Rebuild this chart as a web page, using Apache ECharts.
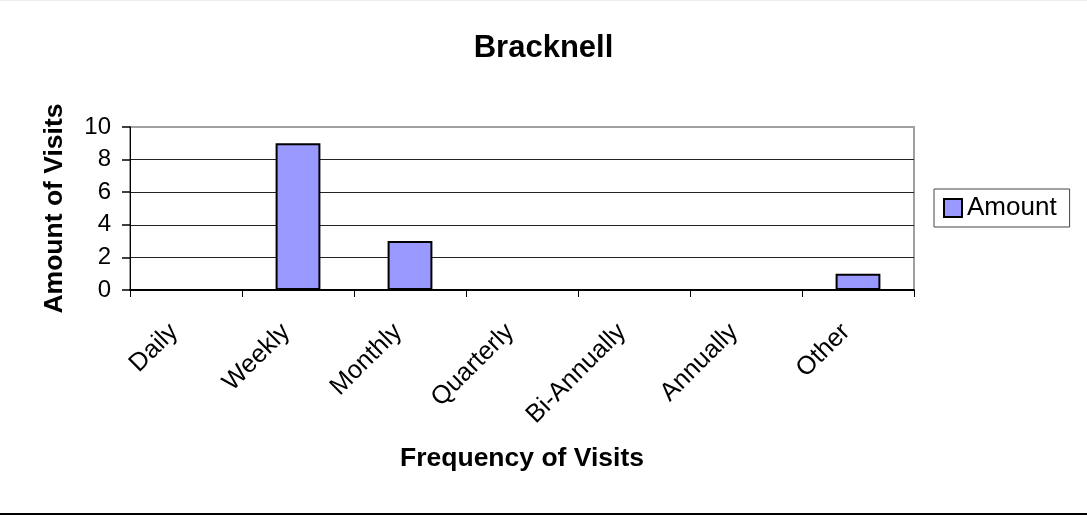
<!DOCTYPE html>
<html>
<head>
<meta charset="utf-8">
<title>Bracknell</title>
<script src="https://cdn.jsdelivr.net/npm/echarts@6/dist/echarts.min.js"></script>
<style>
  html, body { margin: 0; padding: 0; background: #fff; }
  .frame { position: relative; width: 1087px; height: 515px; overflow: hidden; }
  #chartBox { position: absolute; left: 0; top: 0; width: 1087px; height: 515px; }
  .topLine { position: absolute; left: 0; top: 0; width: 100%; height: 1px; background: #ececec; }
  .bottomLine { position: absolute; left: 0; top: 513px; width: 100%; height: 2px; background: #000; }
</style>
</head>
<body>
<div class="frame">
  <div id="chartBox"></div>
  <div class="topLine"></div>
  <div class="bottomLine"></div>
</div>
<script>
  // data
  const categories = ['Daily', 'Weekly', 'Monthly', 'Quarterly', 'Bi-Annually', 'Annually', 'Other']
  const amount = [0, 9, 3, 0, 0, 0, 1]
  const yTicks = [0, 2, 4, 6, 8, 10]

  const fontName = '"Liberation Sans", Arial, Helvetica, sans-serif'

  const makeChart = () => {
    var chartDom = echarts.init(document.getElementById('chartBox'))
    let option = {
      animation: false,
      title: {
        text: 'Bracknell',
        left: 'center',
        top: 28,
        textStyle: { fontFamily: fontName, fontSize: 31, fontWeight: 'bold', color: '#000' }
      },
      legend: {
        data: ['Amount'],
        orient: 'vertical',
        left: 934,
        top: 189,
        padding: [6, 13, 6, 9],
        borderColor: '#444',
        borderWidth: 1,
        itemWidth: 18,
        itemHeight: 18,
        icon: 'rect',
        textStyle: { fontFamily: fontName, fontSize: 26, color: '#000' }
      },
      grid: {
        left: 130,
        right: 173,
        top: 127,
        bottom: 225,
        show: true,
        borderColor: '#a0a0a0',
        borderWidth: 2
      },
      xAxis: {
        type: 'category',
        data: categories,
        name: 'Frequency of Visits',
        nameLocation: 'middle',
        nameGap: 155,
        nameTextStyle: { fontFamily: fontName, fontSize: 26.5, fontWeight: 'bold', color: '#000' },
        axisLine: { show: true, lineStyle: { color: '#000', width: 2 } },
        axisTick: { show: true, inside: false, alignWithLabel: false, interval: 0, length: 7, lineStyle: { color: '#000', width: 1 } },
        axisLabel: {
          rotate: 45,
          interval: 0,
          margin: 26,
          padding: [0, 17, 0, 0],
          fontFamily: fontName,
          fontSize: 25.5,
          color: '#000'
        }
      },
      yAxis: {
        type: 'value',
        min: yTicks[0],
        max: yTicks[yTicks.length - 1],
        interval: yTicks[1] - yTicks[0],
        name: 'Amount of Visits',
        nameLocation: 'middle',
        nameGap: 62,
        nameTextStyle: { fontFamily: fontName, fontSize: 26.5, fontWeight: 'bold', color: '#000' },
        axisLine: { show: true, lineStyle: { color: '#000', width: 1 } },
        axisTick: { show: true, inside: false, length: 8, lineStyle: { color: '#000', width: 1.5 } },
        axisLabel: { margin: 19, fontFamily: fontName, fontSize: 24, color: '#000' },
        splitLine: { show: true, showMaxLine: false, lineStyle: { color: '#222', width: 1 } }
      },
      series: [
        {
          name: 'Amount',
          type: 'bar',
          data: amount,
          barCategoryGap: '60%',
          itemStyle: { color: '#9999ff', borderColor: '#000', borderWidth: 2 }
        }
      ]
    };
    option && chartDom.setOption(option);
  }

  makeChart()
</script>
</body>
</html>
